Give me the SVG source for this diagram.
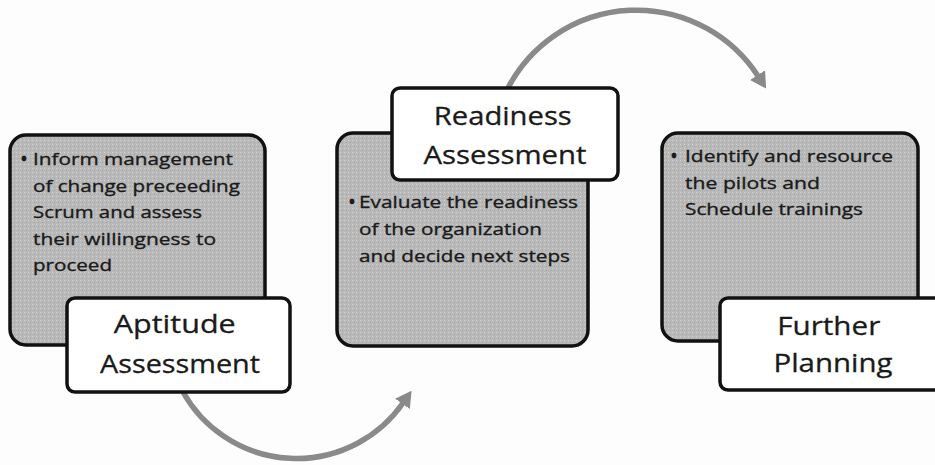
<svg xmlns="http://www.w3.org/2000/svg" width="935" height="465" viewBox="0 0 935 465">
  <defs>
    <style>
      .panel { fill: #b7b7b7; stroke: #111; stroke-width: 3.5; }
      .label { fill: #fff; stroke: #111; stroke-width: 3.5; }
      .body { font-family: "Open Sans", "Liberation Sans", sans-serif; font-size: 17px; fill: #1a1a1a; stroke: #1a1a1a; stroke-width: 0.35; }
      .dot { font-size: 21px; }
      .title { font-family: "Open Sans", "Liberation Sans", sans-serif; font-size: 25px; fill: #1a1a1a; stroke: #1a1a1a; stroke-width: 0.3; }
      .flow { fill: none; stroke: #8a8a8a; stroke-width: 5.5; }
    </style>
    <pattern id="grain" width="4" height="4" patternUnits="userSpaceOnUse">
      <rect width="4" height="4" fill="#b9b9b9"/>
      <rect x="0" y="0" width="1" height="1" fill="#d2d2d2"/>
      <rect x="2" y="2" width="1" height="1" fill="#a3a3a3"/>
    </pattern>
    <marker id="head" viewBox="0 0 16 18" refX="1" refY="9" markerWidth="16" markerHeight="18" markerUnits="userSpaceOnUse" orient="auto">
      <path d="M0 0 L16 9 L0 18 Z" fill="#8a8a8a"/>
    </marker>
  </defs>

  <rect width="935" height="465" fill="#fdfdfd"/>

  <!-- curved flow arrows between the stages -->
  <g id="connectors">
    <path class="flow" d="M 183 392 A 130 130 0 0 0 403 403" marker-end="url(#head)"/>
    <path class="flow" d="M 508 88 A 145 145 0 0 1 758 76" marker-end="url(#head)"/>
  </g>

  <!-- stage 1 -->
  <g id="aptitude">
    <rect class="panel" x="10" y="135" width="255" height="210" rx="16" style="fill:url(#grain)"/>
    <text class="body">
      <tspan class="dot" x="20" y="166">•</tspan>
      <tspan x="33" y="165" textLength="200" lengthAdjust="spacingAndGlyphs">Inform management</tspan>
      <tspan x="33" y="191.6" textLength="207" lengthAdjust="spacingAndGlyphs">of change preceeding</tspan>
      <tspan x="33" y="218.2" textLength="169" lengthAdjust="spacingAndGlyphs">Scrum and assess</tspan>
      <tspan x="33" y="244.8" textLength="183" lengthAdjust="spacingAndGlyphs">their willingness to</tspan>
      <tspan x="33" y="271.4" textLength="79" lengthAdjust="spacingAndGlyphs">proceed</tspan>
    </text>
    <rect class="label" x="67" y="298" width="223" height="94" rx="8"/>
    <text class="title" text-anchor="middle">
      <tspan x="178" y="333" textLength="122" lengthAdjust="spacingAndGlyphs">Aptitude</tspan>
      <tspan x="180" y="373" textLength="160" lengthAdjust="spacingAndGlyphs">Assessment</tspan>
    </text>
  </g>

  <!-- stage 2 -->
  <g id="readiness">
    <rect class="panel" x="337" y="133" width="251" height="213" rx="16" style="fill:url(#grain)"/>
    <rect class="label" x="392" y="88" width="226" height="92" rx="8"/>
    <text class="title" text-anchor="middle">
      <tspan x="506" y="125" textLength="138" lengthAdjust="spacingAndGlyphs">Readiness</tspan>
      <tspan x="505" y="164" textLength="163" lengthAdjust="spacingAndGlyphs">Assessment</tspan>
    </text>
    <text class="body">
      <tspan class="dot" x="348" y="209">•</tspan>
      <tspan x="359" y="208" textLength="219" lengthAdjust="spacingAndGlyphs">Evaluate the readiness</tspan>
      <tspan x="359" y="235" textLength="183" lengthAdjust="spacingAndGlyphs">of the organization</tspan>
      <tspan x="359" y="262" textLength="211" lengthAdjust="spacingAndGlyphs">and decide next steps</tspan>
    </text>
  </g>

  <!-- stage 3 -->
  <g id="planning">
    <rect class="panel" x="662" y="133" width="256" height="208" rx="16" style="fill:url(#grain)"/>
    <text class="body">
      <tspan class="dot" x="670" y="163">•</tspan>
      <tspan x="685" y="162" textLength="208" lengthAdjust="spacingAndGlyphs">Identify and resource</tspan>
      <tspan x="685" y="189" textLength="135" lengthAdjust="spacingAndGlyphs">the pilots and</tspan>
      <tspan x="685" y="215" textLength="178" lengthAdjust="spacingAndGlyphs">Schedule trainings</tspan>
    </text>
    <rect class="label" x="720" y="298" width="226" height="92" rx="8"/>
    <text class="title" text-anchor="middle">
      <tspan x="832" y="335" textLength="103" lengthAdjust="spacingAndGlyphs">Further</tspan>
      <tspan x="833" y="372" textLength="119" lengthAdjust="spacingAndGlyphs">Planning</tspan>
    </text>
  </g>
</svg>
